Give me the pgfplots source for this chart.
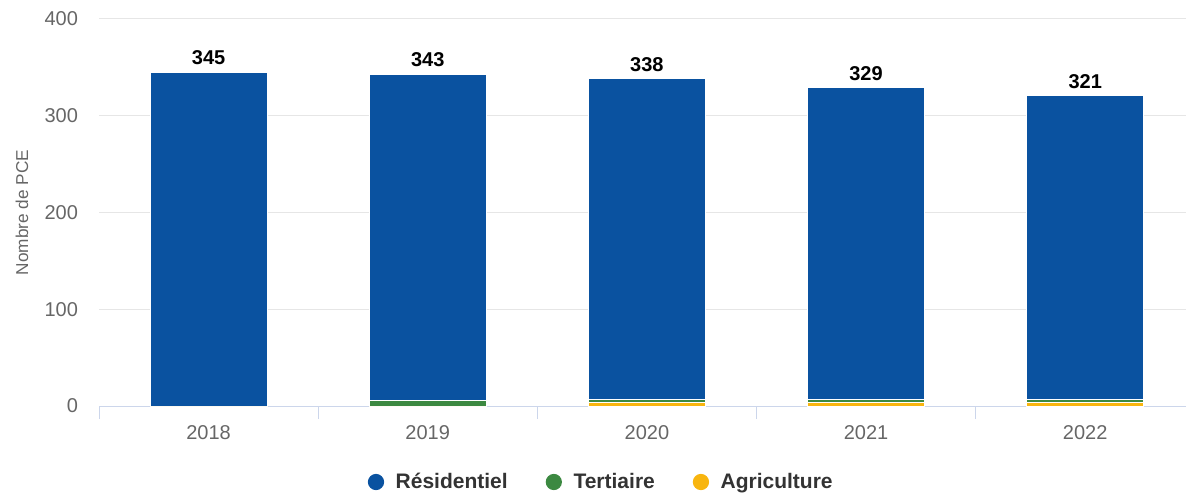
\documentclass[border=0pt]{standalone}
\usepackage{pgfplots}
\usepackage{pgfplotstable}
\usepackage{fontspec}
\setmainfont{Liberation Sans}
\pgfplotsset{compat=1.18}
\pgfplotsset{compat/bar nodes=1.8}

\definecolor{resid}{RGB}{10,82,160}
\definecolor{tert}{RGB}{60,137,65}
\definecolor{agri}{RGB}{248,181,15}
\definecolor{gridc}{RGB}{230,230,230}
\definecolor{axisc}{RGB}{204,214,235}
\definecolor{labc}{RGB}{102,102,102}

\pgfplotstableread{
x agri tert res total
0 0 0 345 345
1 0 6 337 343
2 4 3 331 338
3 4 3 322 329
4 4 3 314 321
}\pce

\begin{document}
\begin{tikzpicture}
\useasboundingbox (-49.5pt,-43.5pt) rectangle (543.5pt,203pt);
\begin{axis}[
  scale only axis,
  width=543.5pt, height=193.5pt,
  xmin=-0.5, xmax=4.46,
  ymin=0, ymax=400,
  ybar stacked,
  bar width=58.5pt,
  xtick={0,...,4},
  xticklabels={2018,2019,2020,2021,2022},
  minor xtick={-0.5,0.5,1.5,2.5,3.5},
  ytick={0,100,200,300,400},
  axis x line*=bottom,
  axis y line*=left,
  x axis line style={draw=axisc, line width=0.5pt, -},
  y axis line style={draw=none},
  ymajorgrids,
  grid style={draw=gridc, line width=0.5pt},
  major x tick style={draw=none},
  major y tick style={draw=none},
  minor x tick style={draw=axisc, line width=0.5pt},
  minor tick length=6.5pt,
  tick align=outside,
  major tick length=0pt,
  ticklabel style={font=\fontsize{10pt}{12pt}\selectfont, text=labc},
  /pgf/number format/assume math mode=true,
  xticklabel style={yshift=-6pt},
  yticklabel style={xshift=-7pt},
  ylabel={Nombre de PCE},
  every axis y label/.style={at={(0,0.5)}, xshift=-38.5pt, rotate=90, anchor=center,
    font=\fontsize{8.6pt}{10pt}\selectfont, text=labc},
  legend columns=3,
  reverse legend,
  legend style={draw=none, fill=none, at={(0.463,0)}, yshift=-38pt, anchor=center,
    font=\fontsize{10.5pt}{12pt}\selectfont\bfseries, text=black!80,
    /tikz/every even column/.append style={column sep=17pt}},
  legend cell align=left,
]
\addplot[fill=agri, draw=white, line width=0.5pt,
  legend image code/.code={\fill[agri] (0pt,0pt) circle (3.8pt); \path (7.6pt,0pt);}]
  table[x=x, y=agri] {\pce};
\addlegendentry{Agriculture}
\addplot[fill=tert, draw=white, line width=0.5pt,
  legend image code/.code={\fill[tert] (0pt,0pt) circle (3.8pt); \path (7.6pt,0pt);}]
  table[x=x, y=tert] {\pce};
\addlegendentry{Tertiaire}
\addplot[fill=resid, draw=white, line width=0.5pt,
  point meta=explicit,
  nodes near coords={\pgfmathprintnumber{\pgfplotspointmeta}},
  nodes near coords style={font=\fontsize{10pt}{12pt}\selectfont\bfseries, text=black, anchor=south, yshift=0pt},
  legend image code/.code={\fill[resid] (0pt,0pt) circle (3.8pt); \path (7.6pt,0pt);}]
  table[x=x, y=res, meta=total] {\pce};
\addlegendentry{Résidentiel}
\end{axis}
\end{tikzpicture}
\end{document}
